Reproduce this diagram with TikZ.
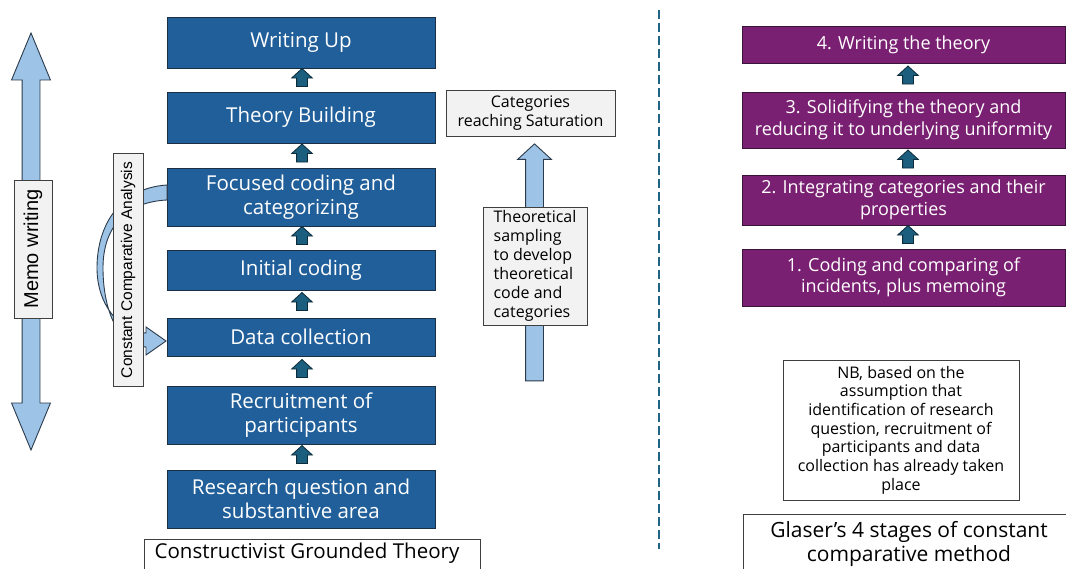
\documentclass[tikz,border=0pt]{standalone}
\usepackage{fontspec}
\setmainfont{Open Sans}
\newfontfamily\arialfont{Liberation Sans}
\usetikzlibrary{shapes.arrows,calc}

\definecolor{stepblue}{HTML}{215F9A}
\definecolor{stepedge}{HTML}{1B2F45}
\definecolor{stagepurple}{HTML}{7A2072}
\definecolor{stageedge}{HTML}{3A1538}
\definecolor{arrowteal}{HTML}{1C5E7E}
\definecolor{arrowedge}{HTML}{0C2C3C}
\definecolor{paleblue}{HTML}{9DC3E6}
\definecolor{paleedge}{HTML}{2B3B4C}
\definecolor{labelgray}{HTML}{F2F2F2}
\definecolor{labeledge}{HTML}{3F3F3F}
\definecolor{dividerteal}{HTML}{1F6483}

\tikzset{
  cgtstep/.style={draw=stepedge, line width=0.9pt, fill=stepblue, text=white,
    minimum width=268pt, align=center, inner sep=0pt,
    font=\fontsize{20.5}{24}\selectfont},
  glaserstep/.style={draw=stageedge, line width=0.9pt, fill=stagepurple, text=white,
    minimum width=323pt, align=center, inner sep=0pt,
    font=\fontsize{18}{21.5}\selectfont},
  % upward block arrows: shaft width = 2 x inner xsep, head adds the extend on each side
  uparrow/.style={single arrow, shape border rotate=90, draw=arrowedge,
    fill=arrowteal, line width=0.8pt, minimum height=18pt,
    inner xsep=5pt, inner ysep=0pt,
    single arrow head extend=5pt, single arrow tip angle=95},
  labelbox/.style={draw=labeledge, line width=0.7pt, fill=labelgray,
    inner sep=0pt, text=black},
  notebox/.style={draw=labeledge, line width=0.7pt, fill=white, inner sep=0pt,
    align=center, text=black, font=\fontsize{16}{18.7}\selectfont},
  paleshape/.style={draw=paleedge, line width=0.9pt, fill=paleblue},
  frameline/.style={draw=labeledge, line width=0.7pt},
  divider/.style={draw=dividerteal, line width=2pt, dash pattern=on 9pt off 4pt}
}

\begin{document}
\begin{tikzpicture}[x=1pt,y=-1pt]
\useasboundingbox (0,0) rectangle (1066,569);
\fill[white] (0,0) rectangle (1066,569);

% ---- Constructivist grounded theory steps ----
\node[cgtstep, minimum height=51pt] (writeup)  at (301,42.5) {Writing Up};
\node[cgtstep, minimum height=51pt] (theory)   at (301,117.5) {Theory Building};
\node[cgtstep, minimum height=58pt] (focused)  at (301,197) {Focused coding and\\categorizing};
\node[cgtstep, minimum height=40pt] (initial)  at (301,270) {Initial coding};
\node[cgtstep, minimum height=38pt] (datacol)  at (301,337) {Data collection};
\node[cgtstep, minimum height=58pt] (recruit)  at (301,415) {Recruitment of\\participants};
\node[cgtstep, minimum height=58pt] (research) at (301,499) {Research question and\\substantive area};

\foreach \lo/\hi in {research/recruit, recruit/datacol, datacol/initial,
                     initial/focused, focused/theory, theory/writeup}
  \node[uparrow] (up-\lo) at ($($(\lo.north)!0.5!(\hi.south)$)+(1,0)$) {};

% caption frame, open at the bottom edge
\node[font=\fontsize{20.5}{24}\selectfont, inner sep=0pt] (cgt) at (307,553) {Constructivist Grounded Theory};
\draw[frameline] (144,571) |- (480,539) -- (480,571);

% ---- memo writing ----
\node[paleshape, double arrow, shape border rotate=90, minimum height=417pt,
      inner xsep=8.5pt, inner ysep=0pt, double arrow head extend=10.5pt,
      double arrow tip angle=45] (memoarrow) at (31,241.5) {};
\node[labelbox, rotate=90, minimum width=138pt, minimum height=38pt,
      font=\arialfont\fontsize{20}{24}\selectfont] (memo) at (33,249) {Memo writing};

% ---- constant comparative analysis loop ----
\path[paleshape]
  (167,185) .. controls (120,188) and (97,225) .. (97,268)
            .. controls (97,305) and (120,332) .. (146,333)
  -- (146,327) -- (166,341) -- (146,355) -- (146,347)
            .. controls (115,345) and (103,305) .. (103,268)
            .. controls (103,228) and (125,202) .. (167,200) -- cycle;
\node[labelbox, rotate=90, minimum width=233pt, minimum height=30pt,
      font=\arialfont\fontsize{15.5}{18}\selectfont] (cca) at (128,270) {Constant Comparative Analysis};

% ---- theoretical sampling ----
\node[labelbox, minimum width=169pt, minimum height=46pt, align=center,
      font=\fontsize{16}{19.5}\selectfont] (saturation) at (530.5,113) {Categories\\reaching Saturation};
\node[paleshape, single arrow, shape border rotate=90, minimum height=237pt,
      inner xsep=8.5pt, inner ysep=0pt, single arrow head extend=8pt,
      single arrow tip angle=95] (satarrow) at (534.5,266.5) {};
\node[labelbox, minimum width=104pt, minimum height=118pt, align=left,
      font=\fontsize{16}{19}\selectfont] (sampling) at (535,266)
  {Theoretical\\sampling\\to develop\\theoretical\\code and\\categories};

% ---- divider ----
\draw[divider] (659,10) -- (659,549);

% ---- Glaser's stages ----
\node[glaserstep, minimum height=37pt] (g4) at (903.5,44.5) {4. Writing the theory};
\node[glaserstep, minimum height=56pt] (g3) at (903.5,120) {3. Solidifying the theory and\\reducing it to underlying uniformity};
\node[glaserstep, minimum height=50pt] (g2) at (903.5,200) {2. Integrating categories and their\\properties};
\node[glaserstep, minimum height=57pt] (g1) at (903.5,277.5) {1. Coding and comparing of\\incidents, plus memoing};

\foreach \lo/\hi in {g1/g2, g2/g3, g3/g4}
  \node[uparrow] (up-\lo) at ($($(\lo.north)!0.5!(\hi.south)$)+(4.5,0)$) {};

\node[notebox, minimum width=236pt, minimum height=140pt] (nb) at (901,430)
  {NB, based on the\\assumption that\\identification of research\\question, recruitment of\\participants and data\\collection has already taken\\place};

\node[font=\fontsize{21}{24}\selectfont, align=center, inner sep=0pt] (glaser) at (909,544)
  {Glaser’s 4 stages of constant\\comparative method};
\draw[frameline] (743,571) |- (1068,514);
\end{tikzpicture}
\end{document}
